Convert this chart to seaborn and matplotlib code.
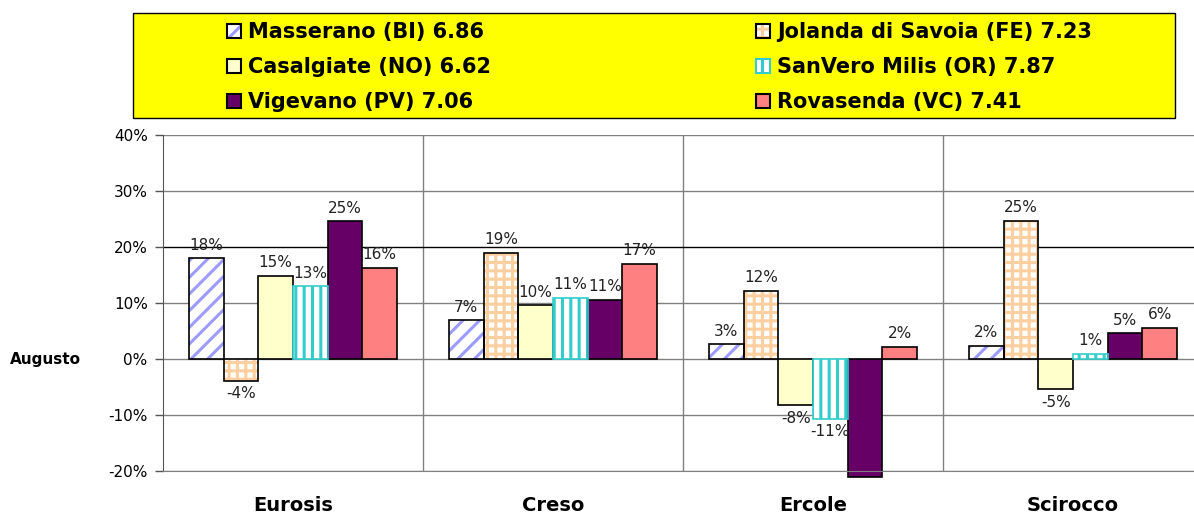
import matplotlib
matplotlib.use('Agg')
import matplotlib.pyplot as plt
import seaborn as sns
import pandas as pd
from matplotlib.patches import Patch, Rectangle
from matplotlib.ticker import PercentFormatter, MultipleLocator

# dati
categorie = ['Eurosis', 'Creso', 'Ercole', 'Scirocco']
serie = ['Masserano (BI) 6.86', 'Jolanda di Savoia (FE) 7.23', 'Casalgiate (NO) 6.62',
         'SanVero Milis (OR) 7.87', 'Vigevano (PV) 7.06', 'Rovasenda (VC) 7.41']
masserano = [0.180, 0.069, 0.026, 0.024]
jolanda = [-0.039, 0.190, 0.122, 0.247]
casalgiate = [0.149, 0.096, -0.083, -0.054]
sanvero = [0.130, 0.109, -0.107, 0.009]
vigevano = [0.246, 0.106, -0.210, 0.046]
rovasenda = [0.163, 0.170, 0.022, 0.056]

valori = [masserano, jolanda, casalgiate, sanvero, vigevano, rovasenda]
righe = []
for nome, vals in zip(serie, valori):
    for cat, v in zip(categorie, vals):
        righe.append({'categoria': cat, 'serie': nome, 'valore': v})
df = pd.DataFrame(righe)

# stile barre: (riempimento, tratteggio, colore tratteggio, bordo)
stili = [
    ('white', '//', '#9C9CFF', 'black'),
    ('white', '++', '#FFCFA0', 'black'),
    ('#FFFFCC', None, None, 'black'),
    ('white', '||', '#33CCCC', '#33CCCC'),
    ('#660066', None, None, 'black'),
    ('#FF8080', None, None, 'black'),
]

sns.set_style('white')
plt.rcParams['font.family'] = ['DejaVu Sans']
plt.rcParams['hatch.linewidth'] = 2.2
plt.rcParams['axes.unicode_minus'] = False
plt.rcParams['text.color'] = 'black'
plt.rcParams['xtick.color'] = 'black'
plt.rcParams['ytick.color'] = 'black'
plt.rcParams['axes.labelcolor'] = 'black'

fig = plt.figure(figsize=(11.94, 5.14), dpi=100)
ax = fig.add_axes([163 / 1194, 43 / 514, 1040 / 1194, 336 / 514])

sns.barplot(data=df, x='categoria', y='valore', hue='serie', order=categorie,
            hue_order=serie, palette=[s[0] for s in stili], saturation=1,
            width=0.8, edgecolor='black', linewidth=1.2, legend=False, ax=ax)

ax.set_ylim(-0.2, 0.4)
ax.set_xlim(-0.5, 3.5)

for cont, (fc, hatch, hc, ec) in zip(ax.containers, stili):
    for bar in cont:
        bar.set_clip_on(False)
        if hatch:
            bar.set_facecolor(fc)
            bar.set_hatch(hatch)
            bar.set_edgecolor(hc)
            bar.set_linewidth(0)
            cornice = Rectangle(bar.get_xy(), bar.get_width(), bar.get_height(),
                                fill=False, edgecolor=ec, linewidth=1.2, zorder=bar.get_zorder() + 0.1,
                                clip_on=False)
            ax.add_patch(cornice)
    etichette = [f"{v * 100:.0f}%" if v >= -0.2 else '' for v in cont.datavalues]
    ax.bar_label(cont, labels=etichette, padding=4, fontsize=11, color='#222222')

# assi e griglia
ax.yaxis.set_major_locator(MultipleLocator(0.1))
ax.yaxis.set_major_formatter(PercentFormatter(1.0, decimals=0))
ax.set_xticks([0.5, 1.5, 2.5], minor=True)
ax.grid(axis='y', which='major', color='#808080', linewidth=1)
ax.grid(axis='x', which='minor', color='#808080', linewidth=1)
ax.set_axisbelow(True)
for gl, t in zip(ax.get_ygridlines(), ax.get_yticks()):
    if abs(t - 0.2) < 1e-6:
        gl.set_color('black')

for lato in ['top', 'right']:
    ax.spines[lato].set_visible(False)
ax.spines['left'].set_color('#555555')
ax.spines['bottom'].set_color('#808080')
ax.tick_params(axis='y', which='major', left=True, length=6, width=1, color='#555555',
               labelsize=11, pad=5)
ax.tick_params(axis='x', which='both', length=0, pad=18)
for lab in ax.get_xticklabels():
    lab.set_fontsize(14)
    lab.set_fontweight('bold')

ax.set_xlabel('')
ax.set_ylabel('Augusto', rotation=0, fontsize=11, fontweight='bold', ha='left', va='center')
ax.yaxis.set_label_coords(-153 / 1040, 0.333)

# legenda
fig.add_artist(Rectangle((133 / 1194, 1 - 118 / 514), (1175 - 133) / 1194, (118 - 13) / 514,
                         transform=fig.transFigure, facecolor='#FFFF00', edgecolor='black',
                         linewidth=1))

maniglie = []
for fc, hatch, hc, ec in stili:
    if hatch:
        maniglie.append((Patch(facecolor=fc, hatch=hatch, edgecolor=hc, linewidth=0),
                         Patch(fill=False, edgecolor=ec, linewidth=1.5)))
    else:
        maniglie.append(Patch(facecolor=fc, edgecolor=ec, linewidth=1.5))

opzioni = dict(loc='upper left', frameon=False, borderpad=0, borderaxespad=0,
               handlelength=0.65, handleheight=0.65, handletextpad=0.35, labelspacing=0.72,
               prop={'weight': 'bold', 'size': 15})
colonne = [[0, 2, 4], [1, 3, 5]]
for x0, idx in zip([227 / 1194, 756 / 1194], colonne):
    fig.legend([maniglie[i] for i in idx], [serie[i] for i in idx],
               bbox_to_anchor=(x0, 1 - 22 / 514), **opzioni)

plt.savefig('out.png', dpi=100)
